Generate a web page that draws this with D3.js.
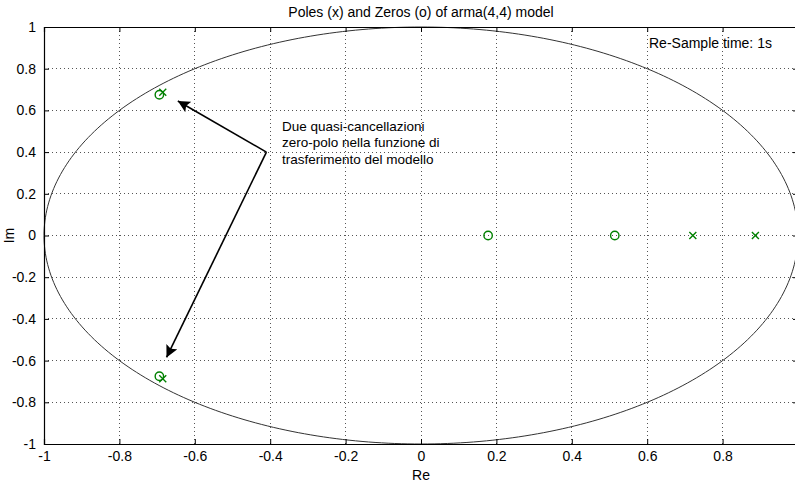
<!DOCTYPE html>
<html>
<head>
<meta charset="utf-8">
<script src="https://cdn.jsdelivr.net/npm/d3@7"></script>
<style>
  html, body { margin: 0; padding: 0; background: #fff; }
  svg { display: block; }
  text { font-family: "Liberation Sans", Arial, Helvetica, sans-serif; fill: #000; }
</style>
</head>
<body>
<svg id="chart" width="795" height="486"></svg>
<script>
// Pole-zero map of the arma(4,4) model
const titleText = "Poles (x) and Zeros (o) of arma(4,4) model";
const xTicks = [-1, -0.8, -0.6, -0.4, -0.2, 0, 0.2, 0.4, 0.6, 0.8, 1];
const xTickLabels = [-1, -0.8, -0.6, -0.4, -0.2, 0, 0.2, 0.4, 0.6, 0.8];
const yTicks = [-1, -0.8, -0.6, -0.4, -0.2, 0, 0.2, 0.4, 0.6, 0.8, 1];
const zerosRe = [-0.694, -0.694, 0.178, 0.514];
const zerosIm = [0.675, -0.675, 0, 0];
const polesRe = [-0.685, -0.685, 0.721, 0.887];
const polesIm = [0.687, -0.687, 0, 0];
const noteLines = ["Due quasi-cancellazioni", "zero-polo nella funzione di", "trasferimento del modello"];
const noteOrigin = [-0.41, 0.4];
const noteTargets = [[-0.645, 0.645], [-0.675, -0.585]];
const sampleNote = "Re-Sample time: 1s";

const svg = d3.select("#chart");
const margin = { left: 44, top: 27, right: -3, bottom: 42 };
const W = 795, H = 486;
const x = d3.scaleLinear().domain([-1, 1]).range([margin.left, W - margin.right]);
const y = d3.scaleLinear().domain([-1, 1]).range([H - margin.bottom, margin.top]);

const plot = svg.append("g");

// dotted grid
const gridCol = "#555";
plot.append("g").selectAll("line").data(xTicks.filter(d => d > -1 && d < 1)).join("line")
  .attr("x1", d => x(d)).attr("x2", d => x(d))
  .attr("y1", y(1)).attr("y2", y(-1))
  .attr("stroke", gridCol).attr("stroke-width", 1).attr("stroke-dasharray", "1,3")
  .attr("shape-rendering", "crispEdges");
plot.append("g").selectAll("line").data(yTicks.filter(d => d > -1 && d < 1)).join("line")
  .attr("x1", x(-1)).attr("x2", x(1))
  .attr("y1", d => y(d)).attr("y2", d => y(d))
  .attr("stroke", gridCol).attr("stroke-width", 1).attr("stroke-dasharray", "1,3")
  .attr("shape-rendering", "crispEdges");

// unit circle
const circ = d3.range(0, 361, 1).map(a => [Math.cos(a * Math.PI / 180), Math.sin(a * Math.PI / 180)]);
plot.append("path")
  .attr("d", d3.line().x(d => x(d[0])).y(d => y(d[1]))(circ))
  .attr("fill", "none").attr("stroke", "#333").attr("stroke-width", 1);

// axes (ticks pointing inward)
const fmt = d => (d === 0 ? "0" : String(d));
const axBt = d3.axisBottom(x).tickValues(xTicks).tickSize(-5).tickFormat("");
const axB = d3.axisBottom(x).tickValues(xTickLabels).tickSize(0).tickPadding(7).tickFormat(fmt);
const axT = d3.axisTop(x).tickValues(xTicks).tickSize(-5).tickFormat("");
const axL = d3.axisLeft(y).tickValues(yTicks).tickSize(-5).tickPadding(8).tickFormat(fmt);
const axR = d3.axisRight(y).tickValues(yTicks).tickSize(-5).tickFormat("");
function style(g) {
  g.selectAll("path").attr("stroke", "#000").attr("stroke-width", 1.2);
  g.selectAll("line").attr("stroke", "#000");
  g.selectAll("text").attr("font-size", 14).style("font-family", "'Liberation Sans', Arial, sans-serif");
}
svg.append("g").attr("transform", `translate(0,${y(-1)})`).call(axBt).call(style);
svg.append("g").attr("transform", `translate(0,${y(-1)})`).call(axB).call(style)
  .call(g => g.select(".domain").remove());
svg.append("g").attr("transform", `translate(0,${y(1)})`).call(axT).call(style);
svg.append("g").attr("transform", `translate(${x(-1)},0)`).call(axL).call(style);
svg.append("g").attr("transform", `translate(${x(1)},0)`).call(axR).call(style);

// zeros (o)
const green = "#008000";
plot.append("g").selectAll("circle").data(zerosRe.map((r, i) => [r, zerosIm[i]])).join("circle")
  .attr("cx", d => x(d[0])).attr("cy", d => y(d[1])).attr("r", 4.2)
  .attr("fill", "none").attr("stroke", green).attr("stroke-width", 1.4);

// poles (x)
const s = 3.5;
plot.append("g").selectAll("path").data(polesRe.map((r, i) => [r, polesIm[i]])).join("path")
  .attr("d", d => {
    const cx = x(d[0]), cy = y(d[1]);
    return `M${cx - s},${cy - s}L${cx + s},${cy + s}M${cx - s},${cy + s}L${cx + s},${cy - s}`;
  })
  .attr("fill", "none").attr("stroke", green).attr("stroke-width", 1.4);

// annotation arrows
const defs = svg.append("defs");
defs.append("marker").attr("id", "head").attr("viewBox", "0 0 10 10")
  .attr("refX", 10).attr("refY", 5).attr("markerWidth", 12).attr("markerHeight", 12)
  .attr("markerUnits", "userSpaceOnUse").attr("orient", "auto")
  .append("path").attr("d", "M0,0L10,5L0,10L2,5Z").attr("fill", "#000");
plot.append("g").selectAll("line").data(noteTargets).join("line")
  .attr("x1", x(noteOrigin[0])).attr("y1", y(noteOrigin[1]))
  .attr("x2", d => x(d[0])).attr("y2", d => y(d[1]))
  .attr("stroke", "#000").attr("stroke-width", 1.6).attr("marker-end", "url(#head)");

svg.append("text").attr("x", 282).attr("y", 131).attr("font-size", 13.5)
  .selectAll("tspan").data(noteLines).join("tspan")
  .attr("x", 282).attr("dy", (d, i) => i === 0 ? 0 : 16.3).text(d => d);

svg.append("text").attr("x", 649).attr("y", 48).attr("font-size", 14).text(sampleNote);

// title and axis labels
svg.append("text").attr("x", x(0)).attr("y", 17).attr("text-anchor", "middle")
  .attr("font-size", 14).text(titleText);
svg.append("text").attr("x", x(0)).attr("y", 480).attr("text-anchor", "middle")
  .attr("font-size", 14).text("Re");
svg.append("text").attr("transform", `translate(14,${y(0)}) rotate(-90)`)
  .attr("text-anchor", "middle").attr("font-size", 14).text("Im");
</script>
</body>
</html>
